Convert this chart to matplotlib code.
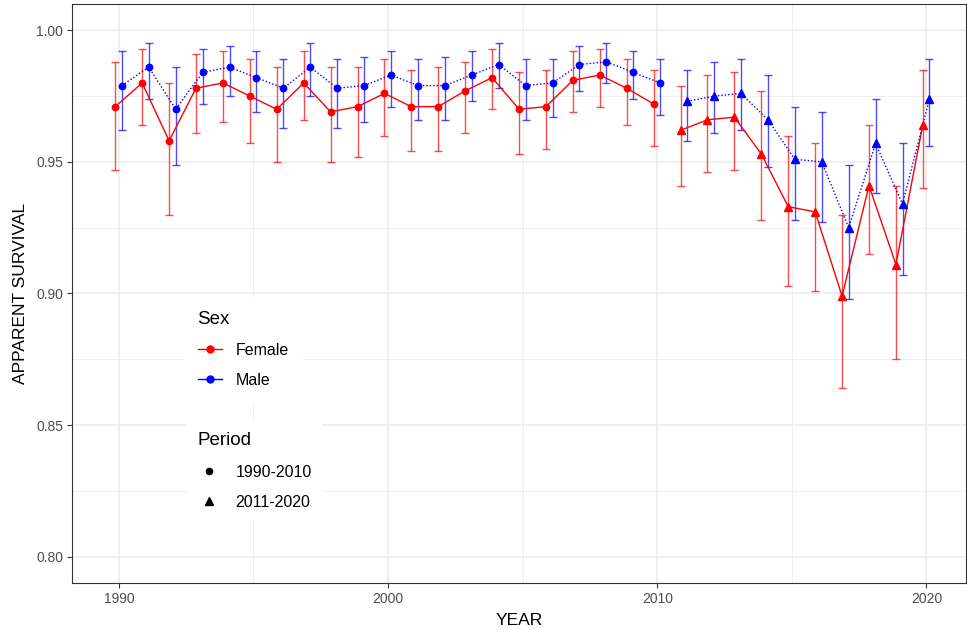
import numpy as np
import matplotlib
matplotlib.use("Agg")
import matplotlib.pyplot as plt
from matplotlib.lines import Line2D

plt.rcParams['font.family'] = ['Liberation Sans', 'DejaVu Sans']

# Survie apparente par année
years = np.arange(1990, 2021)
female = [0.971, 0.980, 0.958, 0.978, 0.980, 0.975, 0.970, 0.980, 0.969, 0.971,
          0.976, 0.971, 0.971, 0.977, 0.982, 0.970, 0.971, 0.981, 0.983, 0.978,
          0.972, 0.962, 0.966, 0.967, 0.953, 0.933, 0.931, 0.899, 0.941, 0.911, 0.964]
female_lo = [0.947, 0.964, 0.930, 0.961, 0.965, 0.957, 0.950, 0.966, 0.950, 0.952,
             0.960, 0.954, 0.954, 0.961, 0.970, 0.953, 0.955, 0.969, 0.971, 0.964,
             0.956, 0.941, 0.946, 0.947, 0.928, 0.903, 0.901, 0.864, 0.915, 0.875, 0.940]
female_hi = [0.988, 0.993, 0.980, 0.991, 0.992, 0.989, 0.986, 0.992, 0.986, 0.986,
             0.989, 0.985, 0.986, 0.988, 0.993, 0.984, 0.985, 0.992, 0.993, 0.989,
             0.985, 0.979, 0.983, 0.984, 0.977, 0.960, 0.957, 0.930, 0.964, 0.941, 0.985]
male = [0.979, 0.986, 0.970, 0.984, 0.986, 0.982, 0.978, 0.986, 0.978, 0.979,
        0.983, 0.979, 0.979, 0.983, 0.987, 0.979, 0.980, 0.987, 0.988, 0.984,
        0.980, 0.973, 0.975, 0.976, 0.966, 0.951, 0.950, 0.925, 0.957, 0.934, 0.974]
male_lo = [0.962, 0.974, 0.949, 0.972, 0.975, 0.969, 0.963, 0.975, 0.963, 0.965,
           0.971, 0.966, 0.966, 0.973, 0.978, 0.966, 0.967, 0.977, 0.980, 0.974,
           0.968, 0.958, 0.961, 0.962, 0.948, 0.928, 0.927, 0.898, 0.938, 0.907, 0.956]
male_hi = [0.992, 0.995, 0.986, 0.993, 0.994, 0.992, 0.989, 0.995, 0.989, 0.990,
           0.992, 0.989, 0.990, 0.992, 0.995, 0.989, 0.989, 0.994, 0.995, 0.992,
           0.989, 0.985, 0.988, 0.989, 0.983, 0.971, 0.969, 0.949, 0.974, 0.957, 0.989]
period_split = 2010  # 1990-2010 / 2011-2020

fig = plt.figure(figsize=(9.67, 6.3), dpi=100)
ax = fig.add_axes([0.0745, 0.0746, 0.9245, 0.9191])

series = [
    ("Female", female, female_lo, female_hi, "#FF0000", "-", -0.135),
    ("Male", male, male_lo, male_hi, "#0000FF", (0, (1, 1.5)), 0.11),
]
for name, val, lo, hi, col, ls, dx in series:
    val = np.array(val); lo = np.array(lo); hi = np.array(hi)
    for per, mk, ms in [(years <= period_split, "o", 4.6), (years > period_split, "^", 5.6)]:
        x = years[per] + dx
        ax.errorbar(x, val[per], yerr=[val[per] - lo[per], hi[per] - val[per]],
                    fmt="none", ecolor=col, alpha=0.7, elinewidth=1.0,
                    capsize=2.6, capthick=1.0, zorder=3)
        ax.plot(x, val[per], color=col, linestyle=ls, linewidth=1.0, zorder=4)
        ax.plot(x, val[per], linestyle="none", marker=mk, markersize=ms,
                markerfacecolor=col, markeredgecolor=col, zorder=5)

# style theme_bw
ax.set_xlim(1988.26, 2021.47)
ax.set_ylim(0.79, 1.01)
ax.set_xticks([1990, 2000, 2010, 2020])
ax.set_xticks([1995, 2005, 2015], minor=True)
ax.set_yticks([0.80, 0.85, 0.90, 0.95, 1.00])
ax.set_yticklabels(["0.80", "0.85", "0.90", "0.95", "1.00"])
ax.set_yticks([0.825, 0.875, 0.925, 0.975], minor=True)
ax.grid(which="major", color="#EBEBEB", linewidth=1.1, zorder=0)
ax.grid(which="minor", color="#EBEBEB", linewidth=0.55, zorder=0)
ax.set_axisbelow(True)
for s in ax.spines.values():
    s.set_color("#333333")
    s.set_linewidth(0.8)
ax.tick_params(which="major", length=3.5, width=0.8, color="#333333",
               labelsize=10, labelcolor="#4D4D4D", pad=3)
ax.tick_params(which="minor", length=0)
ax.set_xlabel("YEAR", fontsize=12.5, labelpad=5)
ax.set_ylabel("APPARENT SURVIVAL", fontsize=12.5, labelpad=6)

# légendes
sex_handles = [Line2D([], [], color="#FF0000", marker="o", markersize=5, linewidth=1.0),
               Line2D([], [], color="#0000FF", marker="o", markersize=5, linewidth=1.0)]
leg1 = fig.legend(sex_handles, ["Female", "Male"], title="Sex",
                  loc="upper left", bbox_to_anchor=(184 / 967, 1 - 297 / 630),
                  frameon=True, facecolor="white", edgecolor="none", framealpha=1,
                  fancybox=False, fontsize=11.5, title_fontsize=13.5,
                  handlelength=1.5, handletextpad=0.9, labelspacing=0.95,
                  borderpad=0.85, borderaxespad=0, alignment="left")
fig.add_artist(leg1)

per_handles = [Line2D([], [], color="black", marker="o", markersize=4.5, linestyle="none"),
               Line2D([], [], color="black", marker="^", markersize=5.5, linestyle="none")]
fig.legend(per_handles, ["1990-2010", "2011-2020"], title="Period",
           loc="upper left", bbox_to_anchor=(187 / 967, 1 - 422 / 630),
           frameon=True, facecolor="white", edgecolor="none", framealpha=1,
           fancybox=False, fontsize=11.5, title_fontsize=13.5,
           handlelength=1.5, handletextpad=0.9, labelspacing=0.95,
           borderpad=0.65, borderaxespad=0, alignment="left")

fig.savefig("out.png", dpi=100)
